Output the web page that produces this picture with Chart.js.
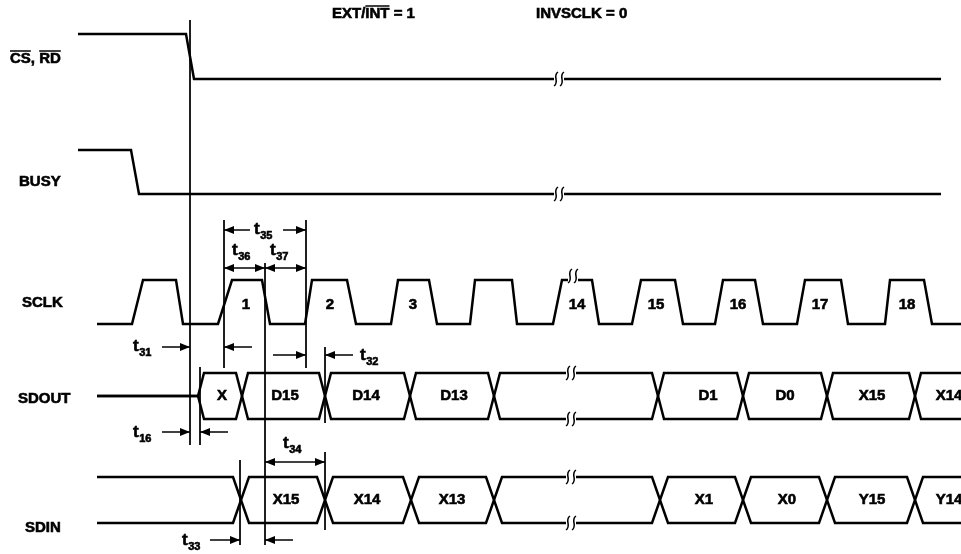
<!DOCTYPE html>
<html>
<head>
<meta charset="utf-8">
<script src="https://cdn.jsdelivr.net/npm/chart.js@4.4.1/dist/chart.umd.min.js"></script>
<style>
  html, body { margin: 0; padding: 0; background: #fff; }
  #wrap { width: 961px; height: 554px; position: relative; }
</style>
</head>
<body>
<div id="wrap"><canvas id="timing"></canvas></div>
<script>
// edge times (x, diagram units) and logic levels for each signal
const csRdT = [78, 186, 194, 941];
const csRdL = [1, 1, 0, 0];
const busyT = [78, 131, 139, 941];
const busyL = [1, 1, 0, 0];
const sclkT = [97, 132, 143, 176, 183, 218, 232, 262, 270, 305, 312, 347, 356, 391, 398, 429, 437, 470, 475, 512,
               517, 553, 562, 592, 599, 632, 641, 675, 683, 715, 723, 755, 763, 797, 805, 841, 848, 885, 890, 924, 932, 961];
const sclkL = [0, 0, 1, 1, 0, 0, 1, 1, 0, 0, 1, 1, 0, 0, 1, 1, 0, 0, 1, 1,
               0, 0, 1, 1, 0, 0, 1, 1, 0, 0, 1, 1, 0, 0, 1, 1, 0, 0, 1, 1, 0, 0];
const sclkNum  = ['1', '2', '3', '14', '15', '16', '17', '18'];
const sclkNumT = [246, 330, 413, 577, 656, 738, 820, 907];

// serial buses: crossing times and bit names
const sdoutStart = 198;
const sdoutX    = [242, 325, 410, 494, 658, 743, 827, 915];
const sdoutBits = ['X', 'D15', 'D14', 'D13', '', 'D1', 'D0', 'X15', 'X14'];
const sdoutBitT = [222, 285, 366, 454, null, 708, 785, 872, 949];
const sdinX    = [241, 325, 411, 494, 660, 743, 827, 915];
const sdinBits = ['', 'X15', 'X14', 'X13', '', 'X1', 'X0', 'Y15', 'Y14'];
const sdinBitT = [null, 286, 367, 452, null, 704, 787, 872, 949];

// timing parameters: name, reference lines [x, y1, y2], arrows [from, to, y, both]
const tNames = ['35', '36', '37', '31', '32', '16', '34', '33'];
const tNameX = [254, 232, 270, 133, 360, 133, 283, 182];
const tNameY = [229, 250, 250, 346, 355, 432, 443, 540];
const refLines = [[190, 20, 445], [200, 367, 445], [224, 220, 368], [306, 220, 368],
                  [265, 263, 545], [325, 347, 423], [325, 452, 530], [240, 460, 545]];
const arrows = [[250, 224, 230], [283, 306, 230], [224, 265, 268, true], [265, 306, 268, true],
                [162, 190, 347], [252, 224, 347], [273, 306, 355], [353, 325, 355],
                [162, 190, 432], [228, 200, 432], [265, 325, 462, true],
                [210, 240, 540], [293, 265, 540]];

// layout: [low, high] pixel rows
const row = { cs: [79, 34], busy: [194, 150], sclk: [324, 280], sdout: [419, 373], sdin: [523, 477] };
const yOf = (r, l) => row[r][0] + (row[r][1] - row[r][0]) * l;
const breaks = [[559, 'cs', 0, 0], [559, 'busy', 0, 0], [573, 'sclk', 1, -4],
                [571, 'sdout', 1, 0], [571, 'sdout', 0, 0], [571, 'sdin', 1, 0], [571, 'sdin', 0, 0]];

const FONT = '"Liberation Sans", Arial, Helvetica, sans-serif';

function wave(times, levels, r) {
    return times.map((t, i) => ({ x: t, y: yOf(r, levels[i]) }));
}

function busPath(r, cross, d, side, start) {
    const pts = [];
    if (start != null) {
        pts.push({ x: 97, y: yOf(r, 0.5) }, { x: start, y: yOf(r, 0.5) }, { x: start + d, y: yOf(r, side) });
    } else {
        pts.push({ x: 97, y: yOf(r, side) });
    }
    cross.forEach(c => {
        pts.push({ x: c - d, y: yOf(r, side) }, { x: c, y: yOf(r, 0.5) }, { x: c + d, y: yOf(r, side) });
    });
    pts.push({ x: 961, y: yOf(r, side) });
    return pts;
}

const thick = (data) => ({ data, borderColor: '#000', borderWidth: 2.5, pointRadius: 0, showLine: true, tension: 0, clip: false });
const thin = (data, w) => ({ data, borderColor: '#000', borderWidth: w, pointRadius: 0, showLine: true, tension: 0, clip: false });

const datasets = [
    thick(wave(csRdT, csRdL, 'cs')),
    thick(wave(busyT, busyL, 'busy')),
    thick(wave(sclkT, sclkL, 'sclk')),
    thick(busPath('sdout', sdoutX, 6, 1, sdoutStart)),
    thick(busPath('sdout', sdoutX, 6, 0, sdoutStart)),
    thick(busPath('sdin', sdinX, 8, 1, null)),
    thick(busPath('sdin', sdinX, 8, 0, null)),
];
refLines.forEach(l => datasets.push(thin([{ x: l[0], y: l[1] }, { x: l[0], y: l[2] }], 1)));
arrows.forEach(a => datasets.push(thin([{ x: a[0], y: a[2] }, { x: a[1], y: a[2] }], 1.5)));

function head(ctx, x, y, dir) {
    ctx.beginPath();
    ctx.moveTo(x, y);
    ctx.lineTo(x - dir * 10, y - 4);
    ctx.lineTo(x - dir * 10, y + 4);
    ctx.closePath();
    ctx.fill();
}

function overline(ctx, x1, x2, y) {
    ctx.lineWidth = 1.5;
    ctx.beginPath();
    ctx.moveTo(x1, y);
    ctx.lineTo(x2, y);
    ctx.stroke();
}

// bold text, a little heavier like the printed original
function label(ctx, s, x, y) {
    ctx.lineWidth = 0.6;
    ctx.fillText(s, x, y);
    ctx.strokeText(s, x, y);
}

const decor = {
    id: 'decor',
    afterDatasetsDraw(chart) {
        const { ctx } = chart;
        const sx = v => chart.scales.x.getPixelForValue(v);
        const sy = v => chart.scales.y.getPixelForValue(v);
        ctx.save();
        ctx.fillStyle = '#000';
        ctx.strokeStyle = '#000';

        // break marks
        breaks.forEach(b => {
            const x = sx(b[0]), y = sy(yOf(b[1], b[2]));
            ctx.fillStyle = '#fff';
            ctx.fillRect(x - 5, y - 3, 10, 6);
            ctx.fillStyle = '#000';
            ctx.lineWidth = 1.5;
            const cy = y + b[3];
            [-3, 3].forEach(o => {
                const cx = x + o;
                ctx.beginPath();
                ctx.moveTo(cx + 2, cy - 7);
                ctx.bezierCurveTo(cx - 4, cy - 3, cx + 4, cy + 3, cx - 2, cy + 7);
                ctx.stroke();
            });
        });

        // arrow heads
        arrows.forEach(a => {
            const x1 = sx(a[0]), x2 = sx(a[1]), y = sy(a[2]);
            const dir = Math.sign(x2 - x1);
            head(ctx, x2, y, dir);
            if (a[3]) head(ctx, x1, y, -dir);
        });

        ctx.textBaseline = 'middle';
        ctx.font = 'bold 15px ' + FONT;

        // signal names
        ctx.textAlign = 'left';
        const csTxt = 'CS, RD';
        const cx0 = sx(10), cy0 = sy(59);
        label(ctx, csTxt, cx0, cy0);
        overline(ctx, cx0, cx0 + ctx.measureText('CS').width, cy0 - 8);
        overline(ctx, cx0 + ctx.measureText('CS, ').width, cx0 + ctx.measureText(csTxt).width, cy0 - 8);
        label(ctx, 'BUSY', sx(19), sy(182));
        label(ctx, 'SCLK', sx(22), sy(303));
        label(ctx, 'SDOUT', sx(18), sy(399));
        label(ctx, 'SDIN', sx(25), sy(528));

        // mode settings
        const m1a = 'EXT/', m1b = 'INT', m1c = ' = 1';
        const mx = sx(332), my = sy(14);
        label(ctx, m1a + m1b + m1c, mx, my);
        const wa = ctx.measureText(m1a).width, wb = ctx.measureText(m1a + m1b).width;
        overline(ctx, mx + wa, mx + wb, my - 8);
        label(ctx, 'INVSCLK = 0', sx(536), sy(14));

        // clock numbers and bus bits
        ctx.textAlign = 'center';
        sclkNum.forEach((n, i) => label(ctx, n, sx(sclkNumT[i]), sy(305)));
        sdoutBits.forEach((n, i) => { if (n) label(ctx, n, sx(sdoutBitT[i]), sy(yOf('sdout', 0.5))); });
        sdinBits.forEach((n, i) => { if (n) label(ctx, n, sx(sdinBitT[i]), sy(yOf('sdin', 0.5))); });

        // timing parameter names
        ctx.textAlign = 'left';
        tNames.forEach((n, i) => {
            const x = sx(tNameX[i]), y = sy(tNameY[i]);
            ctx.font = 'bold 17px ' + FONT;
            label(ctx, 't', x, y);
            const w = ctx.measureText('t').width;
            ctx.font = 'bold 11px ' + FONT;
            label(ctx, n, x + w + 0.5, y + 7);
        });
        ctx.restore();
    }
};

new Chart(document.getElementById('timing'), {
    type: 'scatter',
    data: { datasets },
    options: {
        responsive: true,
        maintainAspectRatio: false,
        animation: false,
        events: [],
        layout: { padding: 0 },
        plugins: { legend: { display: false }, tooltip: { enabled: false } },
        scales: {
            x: { type: 'linear', min: 0, max: 961, display: false },
            y: { type: 'linear', min: 0, max: 554, reverse: true, display: false }
        }
    },
    plugins: [decor]
});
</script>
</body>
</html>
